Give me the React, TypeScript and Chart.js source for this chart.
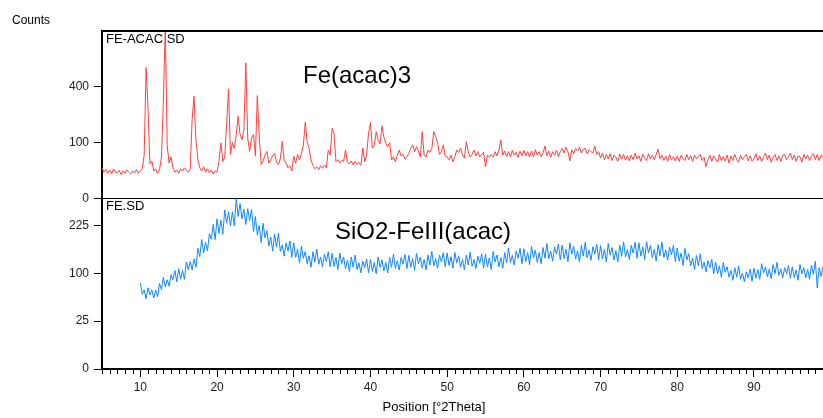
import React, { useEffect, useRef } from 'react';
import { Chart, registerables, LinearScale } from 'chart.js';

Chart.register(...registerables);

class SqrtScale extends LinearScale {
  static id = 'sqrt';
  getPixelForValue(value: number) {
    if (value === null || value === undefined || isNaN(value as any)) return NaN;
    const lo = Math.sqrt(Math.max(0, this.min));
    const hi = Math.sqrt(Math.max(0, this.max));
    return this.getPixelForDecimal((Math.sqrt(Math.max(0, value)) - lo) / (hi - lo));
  }
  getValueForPixel(pixel: number) {
    const lo = Math.sqrt(Math.max(0, this.min));
    const hi = Math.sqrt(Math.max(0, this.max));
    const s = lo + this.getDecimalForPixel(pixel) * (hi - lo);
    return s * s;
  }
}
Chart.register(SqrtScale as any);

// ---------- data ----------
const STEP = 0.25; // scan step [°2Theta]
const TOP_START = 5;
const BOT_START = 10;

// FE-ACAC SD (Fe(acac)3), counts, one row per degree starting at 5°
const TOP_COUNTS = [
  30, 22, 27, 20, // 5
  26, 19, 28, 22,
  21, 25, 18, 24,
  20, 26, 22, 19,
  24, 21, 27, 20,
  25, 28, 60, 550, // 10
  260, 38, 45, 24,
  28, 20, 26, 55,
  300, 950, 90, 40,
  55, 30, 22, 26,
  20, 28, 24, 30, // 15
  26, 22, 27, 200,
  335, 110, 48, 30,
  24, 32, 22, 28,
  21, 26, 19, 24,
  22, 45, 99, 44, // 20
  55, 180, 385, 62,
  100, 80, 130, 217,
  131, 110, 150, 589,
  117, 71, 117, 131,
  58, 339, 120, 37, // 25
  45, 60, 71, 40,
  48, 58, 65, 42,
  37, 50, 105, 45,
  40, 30, 34, 24,
  57, 40, 62, 48, // 30
  66, 90, 186, 103,
  80, 47, 35, 28,
  32, 26, 34, 29,
  36, 30, 75, 60,
  158, 136, 43, 48, // 35
  40, 46, 44, 75,
  42, 38, 45, 36,
  44, 37, 41, 35,
  81, 43, 60, 136,
  184, 81, 90, 143, // 40
  110, 95, 169, 120,
  98, 85, 100, 47,
  55, 43, 60, 75,
  58, 62, 50, 55,
  65, 80, 92, 70, // 45
  86, 72, 55, 143,
  60, 55, 75, 68,
  80, 143, 123, 100,
  62, 70, 92, 58,
  55, 48, 60, 43, // 50
  55, 75, 68, 81,
  60, 52, 103, 70,
  55, 62, 75, 58,
  70, 55, 62, 68,
  32, 60, 55, 62, // 55
  55, 70, 58, 74,
  110, 60, 72, 56,
  70, 55, 74, 60,
  68, 54, 72, 58,
  74, 58, 70, 55, // 60
  72, 56, 76, 60,
  70, 56, 66, 88,
  58, 72, 54, 70,
  60, 74, 56, 70,
  80, 66, 84, 70, // 65
  45, 76, 64, 80,
  72, 84, 66, 78,
  80, 64, 76, 70,
  66, 88, 62, 70,
  52, 66, 48, 62, // 70
  50, 64, 46, 60,
  55, 44, 63, 50,
  62, 47, 58, 45,
  60, 48, 66, 50,
  58, 44, 62, 52, // 75
  46, 64, 50, 60,
  48, 62, 78, 50,
  60, 46, 58, 44,
  62, 48, 56, 45,
  58, 44, 60, 50, // 80
  46, 62, 48, 58,
  44, 60, 50, 56,
  62, 46, 54, 32,
  48, 60, 44, 58,
  50, 42, 62, 46, // 85
  56, 44, 60, 40,
  58, 46, 62, 48,
  42, 60, 48, 56,
  62, 45, 58, 44,
  50, 64, 46, 58, // 90
  44, 56, 66, 48,
  60, 42, 54, 62,
  46, 58, 44, 60,
  62, 48, 56, 66,
  48, 60, 44, 58, // 95
  56, 42, 62, 50,
  60, 46, 58, 64,
  48, 62, 46, 60,
  55, // 99
];

// FE.SD (SiO2-FeIII(acac)), counts, one row per degree starting at 10°
const BOT_COUNTS = [
  81, 61, 68, 54, // 10
  72, 60, 68, 55,
  68, 57, 80, 69,
  92, 74, 87, 75,
  97, 87, 106, 83,
  110, 88, 106, 88, // 15
  125, 108, 126, 107,
  132, 113, 159, 138,
  183, 147, 175, 152,
  200, 184, 228, 183,
  246, 201, 242, 198, // 20
  276, 233, 270, 224,
  270, 224, 318, 254,
  299, 246, 279, 228,
  281, 241, 278, 206,
  254, 196, 225, 175, // 25
  232, 188, 209, 165,
  190, 152, 199, 162,
  201, 151, 168, 139,
  174, 152, 179, 136,
  174, 136, 157, 123, // 30
  165, 134, 150, 121,
  140, 113, 150, 125,
  157, 120, 137, 114,
  144, 126, 150, 114,
  146, 115, 136, 108, // 35
  147, 121, 137, 110,
  129, 104, 137, 113,
  142, 108, 123, 101,
  127, 112, 132, 101,
  131, 104, 124, 99, // 40
  137, 113, 130, 105,
  124, 101, 136, 113,
  144, 111, 128, 107,
  136, 120, 143, 110,
  141, 113, 133, 106, // 45
  146, 121, 137, 111,
  131, 107, 142, 118,
  151, 116, 133, 111,
  142, 125, 148, 114,
  147, 117, 138, 111, // 50
  148, 123, 140, 113,
  131, 107, 142, 118,
  149, 115, 131, 110,
  139, 122, 145, 111,
  144, 114, 135, 108, // 55
  151, 125, 142, 114,
  136, 111, 148, 123,
  160, 124, 141, 118,
  152, 134, 159, 121,
  158, 126, 148, 119, // 60
  164, 135, 154, 124,
  148, 121, 161, 134,
  172, 133, 152, 127,
  163, 144, 170, 130,
  167, 133, 157, 126, // 65
  174, 144, 164, 132,
  153, 125, 167, 139,
  175, 135, 154, 129,
  163, 144, 170, 130,
  166, 132, 156, 125, // 70
  172, 142, 161, 130,
  153, 125, 167, 139,
  177, 137, 156, 131,
  167, 147, 175, 134,
  174, 139, 163, 131, // 75
  177, 147, 167, 135,
  156, 127, 169, 140,
  176, 136, 155, 130,
  162, 142, 167, 126,
  160, 127, 147, 117, // 80
  159, 130, 145, 116,
  134, 108, 141, 116,
  145, 110, 125, 103,
  128, 112, 131, 99,
  125, 99, 116, 92, // 85
  124, 102, 114, 92,
  106, 86, 112, 92,
  116, 88, 100, 83,
  103, 91, 109, 84,
  111, 90, 108, 88, // 90
  121, 101, 114, 93,
  109, 89, 119, 99,
  124, 96, 109, 91,
  112, 99, 117, 90,
  114, 91, 107, 86, // 95
  119, 99, 112, 91,
  108, 88, 118, 98,
  127, 72, 112, 94,
  114, // 99
];

const X_MIN = 5;
const X_MAX = 99;
const X_TICKS = [10, 20, 30, 40, 50, 60, 70, 80, 90];
const TOP_MAX = 900;
const TOP_TICKS = [0, 100, 400];
const BOT_MAX = 318;
const BOT_TICKS = [0, 25, 100, 225];

const Y_TITLE = 'Counts';
const X_TITLE = 'Position [°2Theta]';
const TOP_FILE = 'FE-ACAC SD';
const BOT_FILE = 'FE.SD';
const TOP_NAME = 'Fe(acac)3';
const BOT_NAME = 'SiO2-FeIII(acac)';

const TOP_COLOR = '#ff4040';
const BOT_COLOR = '#1088ff';
const FONT = '"Liberation Sans", Arial, sans-serif';

const decor = {
  id: 'decor',
  afterDraw(chart: any) {
    const { ctx, chartArea, scales } = chart;
    const x = scales.x;
    const yBot = scales.yBot;
    ctx.save();
    // top frame line
    ctx.strokeStyle = '#000';
    ctx.lineWidth = 2;
    ctx.beginPath();
    ctx.moveTo(chartArea.left - 1, chartArea.top);
    ctx.lineTo(chart.width, chartArea.top);
    ctx.stroke();
    // minor x ticks
    ctx.lineWidth = 1;
    ctx.beginPath();
    for (let v = Math.ceil(X_MIN); v <= X_MAX; v++) {
      if (v % 10 === 0) continue;
      const px = Math.round(x.getPixelForValue(v)) + 0.5;
      ctx.moveTo(px, chartArea.bottom + 1);
      ctx.lineTo(px, chartArea.bottom + 5);
    }
    ctx.stroke();
    // texts
    ctx.fillStyle = '#000';
    ctx.textBaseline = 'middle';
    ctx.textAlign = 'left';
    ctx.font = `12px ${FONT}`;
    ctx.fillText(Y_TITLE, 12, 21);
    ctx.font = `13px ${FONT}`;
    ctx.fillText(TOP_FILE, chartArea.left + 4, chartArea.top + 8);
    ctx.fillText(BOT_FILE, chartArea.left + 4, yBot.top + 8);
    ctx.textAlign = 'center';
    ctx.fillText(X_TITLE, 434, 407);
    ctx.textAlign = 'left';
    ctx.textBaseline = 'alphabetic';
    ctx.font = `24px ${FONT}`;
    ctx.fillText(TOP_NAME, 303, 82.5);
    ctx.fillText(BOT_NAME, 335, 238.5);
    ctx.restore();
  },
};

export default function App() {
  const ref = useRef<HTMLCanvasElement | null>(null);
  useEffect(() => {
    if (!ref.current) return;
    Chart.defaults.font.family = FONT;
    Chart.defaults.font.size = 12;
    Chart.defaults.color = '#222';
    const topData = TOP_COUNTS.map((y, i) => ({ x: TOP_START + i * STEP, y }));
    const botData = BOT_COUNTS.map((y, i) => ({ x: BOT_START + i * STEP, y }));
    const zeroGrid = (c: any) => (c.tick && c.tick.value === 0 ? '#000' : 'rgba(0,0,0,0)');
    const chart = new Chart(ref.current, {
      type: 'line',
      data: {
        datasets: [
          { label: TOP_FILE, data: topData, yAxisID: 'yTop', xAxisID: 'x', borderColor: TOP_COLOR, borderWidth: 1, pointRadius: 0, tension: 0 },
          { label: BOT_FILE, data: botData, yAxisID: 'yBot', xAxisID: 'x', borderColor: BOT_COLOR, borderWidth: 1, pointRadius: 0, tension: 0 },
        ],
      },
      options: {
        animation: false,
        responsive: false,
        devicePixelRatio: 1,
        parsing: false as any,
        normalized: true,
        layout: { padding: { left: 69, top: 31, right: 0, bottom: 23 } },
        plugins: { legend: { display: false }, tooltip: { enabled: false }, title: { display: false } },
        scales: {
          x: {
            type: 'linear',
            position: 'bottom',
            min: X_MIN,
            max: X_MAX,
            afterBuildTicks: (s: any) => { s.ticks = X_TICKS.map((v) => ({ value: v })); },
            afterFit: (s: any) => { s.height = 26; },
            ticks: { padding: 3, maxRotation: 0, autoSkip: false, color: '#222', font: { size: 12 }, callback: (v: any) => String(v) },
            grid: { drawOnChartArea: false, tickLength: 8, tickColor: '#000', color: '#000' },
            border: { color: '#000', width: 2 },
          },
          yBot: {
            type: 'sqrt' as any,
            position: 'left',
            stack: 'panels',
            stackWeight: 170.8,
            min: 0,
            max: BOT_MAX,
            afterBuildTicks: (s: any) => { s.ticks = BOT_TICKS.map((v) => ({ value: v })); },
            afterFit: (s: any) => { s.width = 33; },
            ticks: { padding: 5, autoSkip: false, color: '#222', font: { size: 12 }, callback: (v: any) => String(v) },
            grid: { tickLength: 8, tickColor: '#000', color: zeroGrid, lineWidth: 1 },
            border: { color: '#000', width: 2 },
          },
          yTop: {
            type: 'sqrt' as any,
            position: 'left',
            stack: 'panels',
            stackWeight: 167.5,
            min: 0,
            max: TOP_MAX,
            afterBuildTicks: (s: any) => { s.ticks = TOP_TICKS.map((v) => ({ value: v })); },
            afterFit: (s: any) => { s.width = 33; },
            ticks: { padding: 5, autoSkip: false, color: '#222', font: { size: 12 }, callback: (v: any) => String(v) },
            grid: { tickLength: 8, tickColor: '#000', color: zeroGrid, lineWidth: 1 },
            border: { color: '#000', width: 2 },
          },
        },
      } as any,
      plugins: [decor],
    });
    return () => chart.destroy();
  }, []);
  return (
    <div style={{ position: 'absolute', left: 0, top: 0, width: 823, height: 418, background: '#fff' }}>
      <canvas ref={ref} width={823} height={418} style={{ display: 'block' }} />
    </div>
  );
}
